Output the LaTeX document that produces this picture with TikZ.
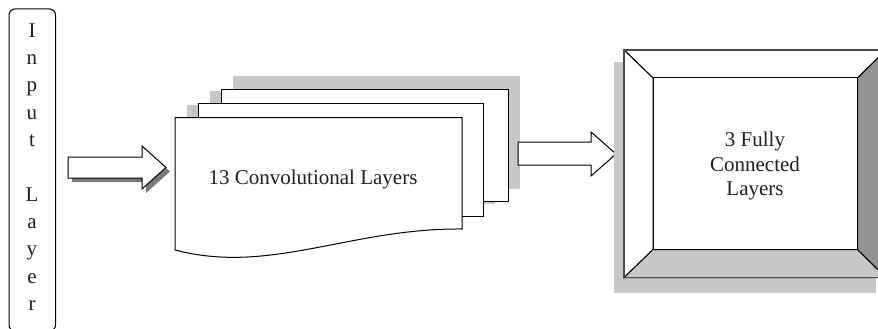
\documentclass[tikz,border=0pt]{standalone}
\usepackage{fontspec}
\setmainfont{Liberation Serif}
\definecolor{shadowgray}{HTML}{C6C7C6}
\definecolor{darkbevel}{HTML}{939393}
\definecolor{arrowshadow}{HTML}{7A7A7A}
\definecolor{txtgray}{HTML}{231F20}
\definecolor{framegray}{HTML}{4A4A4A}
\begin{document}
\begin{tikzpicture}[x=1pt,y=-1pt,
  outline/.style={draw=black,line width=1pt,line join=miter,fill=white},
  shadowfill/.style={fill=shadowgray,draw=none},
  lbl/.style={font=\fontsize{21}{24.5}\selectfont,text=txtgray,inner sep=0pt}]
\useasboundingbox (0,0) rectangle (878,329);

% ---------- Input layer ----------
\draw[line width=1pt,rounded corners=6pt] (9,9) rectangle (55.5,331);
\foreach \ch/\yy [count=\k] in {I/37.3,n/64.6,p/91.9,u/119.2,t/146.5,L/201.1,a/228.4,y/255.7,e/283,r/310.3}
  \node[lbl,anchor=base] (in\k) at (32,\yy) {\ch};

% ---------- Arrow 1 (with shadow) ----------
\fill[arrowshadow,shift={(4,4)}] (68,157) -- (142,157) -- (142,146) -- (166,167.5) -- (142,189) -- (142,178) -- (68,178) -- cycle;
\draw[outline] (68,157) -- (142,157) -- (142,146) -- (166,167.5) -- (142,189) -- (142,178) -- (68,178) -- cycle;

% ---------- Convolutional stack ----------
\begin{scope}[shift={(12,-12.5)}]
  \fill[shadowfill] (221,89) rectangle (508,201);
  \fill[shadowfill] (198,103) rectangle (483,216);
  \fill[shadowfill] (175,117.5) -- (462,117.5) -- (462,229) .. controls (350,228) and (270,275) .. (175,250) -- cycle;
\end{scope}
\draw[outline] (221,89) rectangle (508,201);
\draw[outline] (198,103) rectangle (483,216);
\draw[outline] (175,117.5) -- (462,117.5) -- (462,229) .. controls (350,228) and (270,275) .. (175,250) -- cycle;
\node[lbl,anchor=base] (conv) at (313,184) {13 Convolutional Layers};

% ---------- Arrow 2 ----------
\draw[outline] (518,142) -- (591,142) -- (591,132) -- (616,154) -- (591,176) -- (591,165) -- (518,165) -- cycle;

% ---------- Fully connected frame ----------
\fill[shadowfill] (614,62) rectangle (876,292.5);
\draw[line width=1pt,fill=white] (624,50) -- (886,50) -- (857.5,78) -- (653,78) -- cycle;
\draw[line width=1pt,fill=white] (624,50) -- (653,78) -- (653,249.5) -- (624,277.7) -- cycle;
\draw[line width=1pt,fill=shadowgray] (624,277.7) -- (653,249.5) -- (857.5,249.5) -- (886,277.7) -- cycle;
\draw[line width=1pt,fill=darkbevel] (886,50) -- (857.5,78) -- (857.5,249.5) -- (886,277.7) -- cycle;
\draw[line width=1pt,fill=white] (653,78) rectangle (857.5,249.5);
\draw[line width=1.2pt,draw=framegray] (624,50) rectangle (886,277.7);
\node[lbl,anchor=base] (fc1) at (755,146.7) {3 Fully};
\node[lbl,anchor=base] (fc2) at (755,171.5) {Connected};
\node[lbl,anchor=base] (fc3) at (755,195.5) {Layers};
\end{tikzpicture}
\end{document}
